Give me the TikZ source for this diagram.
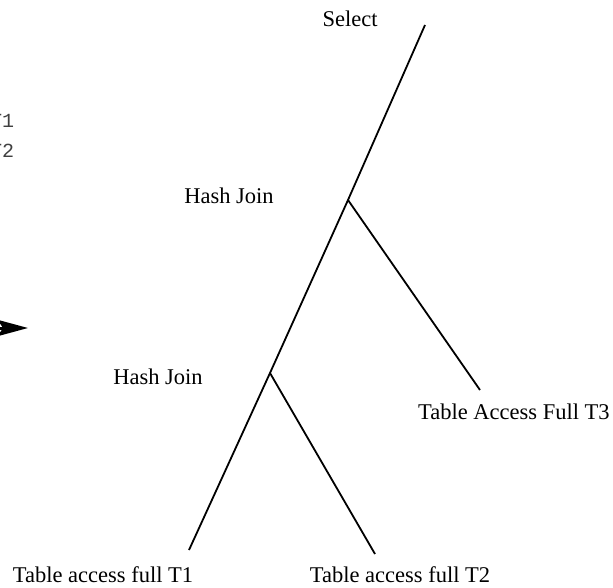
\documentclass[tikz,border=0pt]{standalone}
\usepackage{fontspec}
\setmainfont{Liberation Serif}
\setmonofont{Liberation Mono}
\usetikzlibrary{arrows.meta}
\begin{document}
\begin{tikzpicture}[x=1pt,y=-1pt,
  lbl/.style={inner sep=0pt, anchor=base, font=\fontsize{22.5}{26}\selectfont},
  code/.style={inner sep=0pt, anchor=base west, text=black!75, font=\ttfamily\fontsize{20}{24}\selectfont},
  edge/.style={line width=1.8pt}]
\useasboundingbox (0,0) rectangle (613,588);
% cropped code text at the left
\node[code] (c1) at (-10,128) {T1};
\node[code] (c2) at (-10,158) {T2};
\coordinate (as) at (-40,328);
\coordinate (ae) at (28,328);
\draw[line width=3pt, -{Stealth[length=30pt,width=16pt,inset=5pt]}] (as) -- (ae);
% tree
\coordinate (top) at (425,25);
\coordinate (hj1) at (348,200);
\coordinate (hj2) at (270,373);
\coordinate (t1e) at (189,550);
\coordinate (t2e) at (375,554);
\coordinate (t3e) at (480,390);
\draw[edge] (top) -- (hj1) -- (hj2) -- (t1e);
\draw[edge] (hj1) -- (t3e);
\draw[edge] (hj2) -- (t2e);
\node[lbl] (sel) at (350,27) {Select};
\node[lbl] (h1) at (229,204) {Hash Join};
\node[lbl] (h2) at (158,384) {Hash Join};
\node[lbl, anchor=base west] (t3) at (418,419) {Table Access Full T3};
\node[lbl] (t1) at (103,582) {Table access full T1};
\node[lbl] (t2) at (400,582) {Table access full T2};
\end{tikzpicture}
\end{document}
